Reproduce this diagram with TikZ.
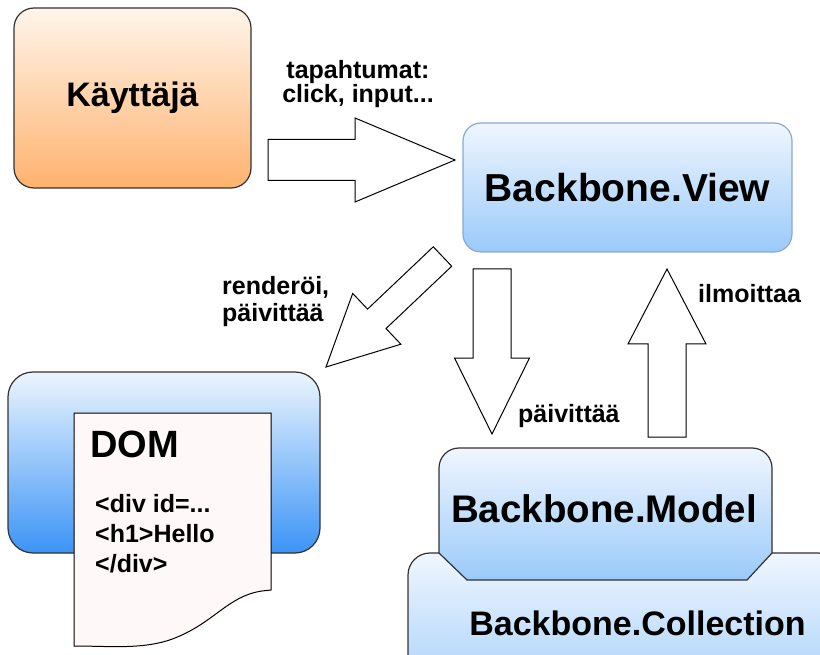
\documentclass[tikz,border=0pt]{standalone}
\usepackage{fontspec}
\setmainfont{Liberation Sans}
\usepackage{tikz}
\usetikzlibrary{calc,positioning}
\definecolor{usertop}{RGB}{255,245,235}
\definecolor{userbot}{RGB}{255,178,110}
\definecolor{bluetop}{RGB}{240,246,254}
\definecolor{bluebot}{RGB}{154,202,250}
\definecolor{domtop}{RGB}{236,245,254}
\definecolor{dombot}{RGB}{60,148,246}
\definecolor{viewline}{RGB}{140,168,208}
\definecolor{boxline}{RGB}{50,50,50}
\definecolor{paper}{RGB}{255,248,248}

% hollow block arrow: tail, tip, half shaft, half head, head length
\newcommand{\fatarrow}[5]{%
  \coordinate (neck) at ($(#2)!#5!(#1)$);
  \draw[fatarrow] ($(#1)!#3!90:(#2)$) -- ($(neck)!#3!-90:(#1)$) -- ($(neck)!#4!-90:(#1)$) -- (#2)
    -- ($(neck)!#4!90:(#1)$) -- ($(neck)!#3!90:(#1)$) -- ($(#1)!#3!-90:(#2)$) -- cycle;}

\tikzset{
  box/.style={draw=boxline, line width=1.2pt, rounded corners=20pt, inner sep=0pt},
  bluebox/.style={box, top color=bluetop, bottom color=bluebot},
  word/.style 2 args={font=\fontsize{#1}{#2}\selectfont\bfseries, inner sep=0pt},
  tag/.style={word={25}{#1}},
  fatarrow/.style={draw=black, line width=1pt, fill=white, line join=miter},
}

\begin{document}
\begin{tikzpicture}[x=1pt,y=-1pt]
  \useasboundingbox (0,0) rectangle (820,655);
  \clip (0,0) rectangle (820,655);

  % user and view
  \node[box, top color=usertop, bottom color=userbot, minimum width=237pt, minimum height=180pt,
        word={34}{40}] (user) at (132.5,98) {Käyttäjä};
  \node[bluebox, draw=viewline, rounded corners=18pt, minimum width=329pt, minimum height=129pt,
        word={39}{45}] (view) at (627.5,187.5) {Backbone.View};

  % DOM with a sheet of paper on top
  \node[box, rounded corners=25pt, top color=domtop, bottom color=dombot,
        minimum width=312pt, minimum height=181pt] (dombox) at (164,462.5) {};
  \draw[draw=black, line width=1pt, fill=paper] (74,413) -- (271,413) -- (271,590) -- (262,591)
    .. controls (228,596) and (215,622) .. (175,638)
    .. controls (145,650) and (110,646) .. (74,646) -- cycle;
  \node[word={38}{44}, anchor=base west] (dom) at (90,457) {DOM};
  \node[word={25}{30}, anchor=north west, align=left] (html) at (95,494)
    {<div id=...\\<h1>Hello\\</div>};

  % collection behind the model
  \draw[bluebox, rounded corners=22pt] (408,720) -- (408,553) -- (840,553) -- (840,720) -- cycle;
  \draw[box, rounded corners=0pt, top color=bluetop, bottom color=bluebot]
    (439,553) -- (439,468) arc[start angle=180, end angle=270, radius=20]
    -- (752,448) arc[start angle=270, end angle=360, radius=20]
    -- (772,553) -- (747,580) -- (467,580) -- cycle;
  \node[word={38.5}{44}] (model) at (604,509) {Backbone.Model};
  \node[word={34}{40}] (collection) at (637.5,623) {Backbone.Collection};

  % arrows
  \coordinate (clickTail) at (268,160);
  \coordinate (clickTip) at (455,160);
  \coordinate (renderTail) at (442.5,256.5);
  \coordinate (renderTip) at (326,367);
  \coordinate (updateTail) at (492,269);
  \coordinate (updateTip) at (492,434);
  \coordinate (notifyTail) at (667,437);
  \coordinate (notifyTip) at (667,269);
  \fatarrow{clickTail}{clickTip}{20.5pt}{42pt}{100pt}
  \fatarrow{renderTail}{renderTip}{13.4pt}{35pt}{70pt}
  \fatarrow{updateTail}{updateTip}{19pt}{37.5pt}{76pt}
  \fatarrow{notifyTail}{notifyTip}{19pt}{39pt}{75pt}

  % labels
  \node[tag=23, align=center] (events) at (358,84) {tapahtumat:\\click, input...};
  \node[tag=27, align=left, anchor=west] (render) at (222,302) {renderöi,\\päivittää};
  \node[tag=25, anchor=base west] (update) at (518,422) {päivittää};
  \node[tag=25, anchor=base west] (notify) at (698,303) {ilmoittaa};
\end{tikzpicture}
\end{document}
